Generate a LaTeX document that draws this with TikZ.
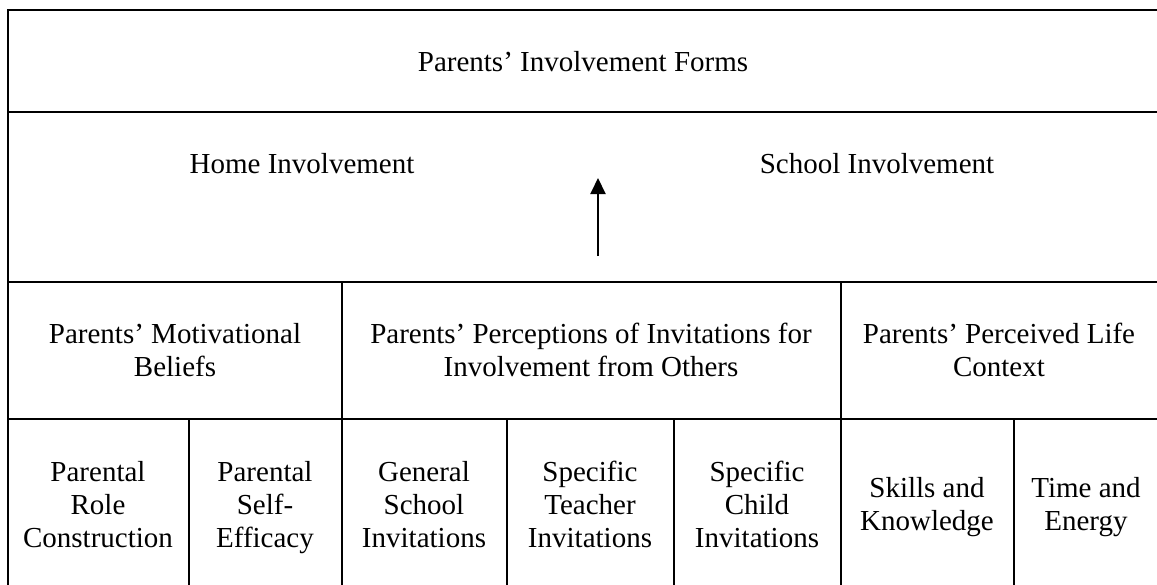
\documentclass[tikz,border=0pt]{standalone}
\usepackage{fontspec}
\setmainfont{Liberation Serif}
\usetikzlibrary{arrows.meta}
\begin{document}
\begin{tikzpicture}[x=1pt,y=-1pt,
  grid/.style={line width=2pt,line cap=rect},
  lbl/.style={align=center,inner sep=0pt,anchor=base,font=\fontsize{29}{33}\selectfont},
  uparrow/.style={line width=2pt,-{Triangle[width=15pt,length=16pt]}}]
\useasboundingbox (0,0) rectangle (1157,584);
% outer frame and row lines
\draw[grid] (8,10) rectangle (1159,588);
\draw[grid] (8,112) -- (1159,112);
\draw[grid] (8,282) -- (1159,282);
\draw[grid] (8,419) -- (1159,419);
% row 3 verticals
\draw[grid] (342,282) -- (342,588);
\draw[grid] (841,282) -- (841,588);
% row 4 verticals
\draw[grid] (189,419) -- (189,588);
\draw[grid] (507,419) -- (507,588);
\draw[grid] (674,419) -- (674,588);
\draw[grid] (1014,419) -- (1014,588);
% texts (base anchor = baseline of last line)
\node[lbl] (forms) at (583,71) {Parents’ Involvement Forms};
\node[lbl] (home) at (302,173) {Home Involvement};
\node[lbl] (school) at (877,173) {School Involvement};
\node[lbl] (motiv) at (175,376) {Parents’ Motivational\\Beliefs};
\node[lbl] (percep) at (591,376) {Parents’ Perceptions of Invitations for\\Involvement from Others};
\node[lbl] (life) at (999,376) {Parents’ Perceived Life\\Context};
\node[lbl] (role) at (98,547) {Parental\\Role\\Construction};
\node[lbl] (eff) at (265,547) {Parental\\Self-\\Efficacy};
\node[lbl] (gen) at (424,547) {General\\School\\Invitations};
\node[lbl] (teach) at (590,547) {Specific\\Teacher\\Invitations};
\node[lbl] (child) at (757,547) {Specific\\Child\\Invitations};
\node[lbl] (skill) at (927,530) {Skills and\\Knowledge};
\node[lbl] (time) at (1086,530) {Time and\\Energy};
% arrow
\coordinate (abot) at (598,256);
\coordinate (atop) at (598,178);
\draw[uparrow] (abot) -- (atop);
\end{tikzpicture}
\end{document}
